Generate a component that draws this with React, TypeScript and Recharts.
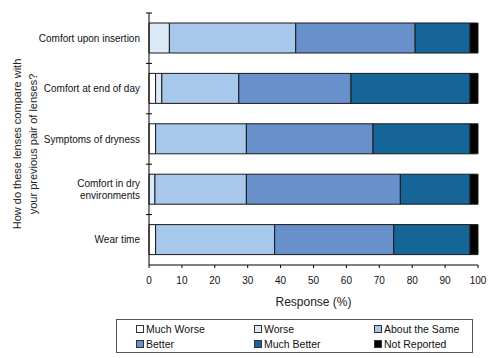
import { Bar, BarChart, XAxis, YAxis, Label } from 'recharts';

const categories = [
  'Comfort upon insertion',
  'Comfort at end of day',
  'Symptoms of dryness',
  'Comfort in dry\nenvironments',
  'Wear time',
];
const muchWorse = [0, 2.0, 2.0, 0, 2.0];
const worse = [6.2, 1.9, 0, 1.8, 0];
const aboutSame = [38.4, 23.4, 27.6, 27.8, 36.2];
const better = [36.3, 34.1, 38.5, 46.8, 36.2];
const muchBetter = [16.7, 36.2, 29.5, 21.2, 23.2];
const notReported = [2.4, 2.4, 2.4, 2.4, 2.4];
const xTicks = [0, 10, 20, 30, 40, 50, 60, 70, 80, 90, 100];

const series = [
  { key: 'muchWorse', name: 'Much Worse', color: '#ffffff' },
  { key: 'worse', name: 'Worse', color: '#dce9f7' },
  { key: 'aboutSame', name: 'About the Same', color: '#a7c8eb' },
  { key: 'better', name: 'Better', color: '#6890cb' },
  { key: 'muchBetter', name: 'Much Better', color: '#166598' },
  { key: 'notReported', name: 'Not Reported', color: '#000000' },
];

const data = categories.map((name, i) => ({
  name,
  muchWorse: muchWorse[i],
  worse: worse[i],
  aboutSame: aboutSame[i],
  better: better[i],
  muchBetter: muchBetter[i],
  notReported: notReported[i],
}));

const font = '"Liberation Sans", Arial, sans-serif';
const margin = { top: 13, right: 22, bottom: 63, left: 0 };
const plotHeight = 358 - 13 - 63 - 30;
const halfBand = plotHeight / categories.length / 2;

function CategoryTick(props: any) {
  const { x, y, payload } = props;
  const lines = String(payload.value).split('\n');
  const lineH = 12.3;
  const start = y - ((lines.length - 1) * lineH) / 2;
  return (
    <g>
      <line x1={x + 6} x2={x + 12} y1={y - halfBand} y2={y - halfBand} stroke="#000" />
      <text x={x} y={start} textAnchor="end" fontSize={10} fill="#111" fontFamily={font}>
        {lines.map((l, i) => (
          <tspan key={i} x={x} dy={i === 0 ? '0.35em' : lineH}>
            {l}
          </tspan>
        ))}
      </text>
    </g>
  );
}

function YTitle() {
  const cx = 28;
  const cy = 144;
  return (
    <text
      transform={`rotate(-90, ${cx}, ${cy})`}
      x={cx}
      y={cy}
      textAnchor="middle"
      fontSize={11}
      fill="#222"
      fontFamily={font}
    >
      <tspan x={cx} dy={-7.3}>How do these lenses compare with</tspan>
      <tspan x={cx} dy={16}>your previous pair of lenses?</tspan>
    </text>
  );
}

export default function App() {
  return (
    <div style={{ position: 'absolute', left: 0, top: 0, width: 500, height: 358, background: '#fff', fontFamily: font }}>
      <BarChart width={500} height={358} data={data} layout="vertical" margin={margin} barSize={30}>
        <XAxis
          type="number"
          domain={[0, 100]}
          ticks={xTicks}
          height={30}
          stroke="#000"
          tickSize={3}
          tickMargin={9}
          tick={{ fill: '#111', fontSize: 10, fontFamily: font }}
        >
          <Label
            content={() => (
              <text x={149 + 329 / 2} y={306} textAnchor="middle" fontSize={12} fill="#222" fontFamily={font}>
                Response (%)
              </text>
            )}
          />
        </XAxis>
        <XAxis xAxisId="top" orientation="top" type="number" domain={[0, 100]} height={0} tick={false} tickLine={false} stroke="#777" />
        <YAxis
          type="category"
          dataKey="name"
          width={149}
          stroke="#000"
          tickLine={false}
          tickMargin={3}
          interval={0}
          tick={<CategoryTick />}
        >
          <Label content={<YTitle />} />
        </YAxis>
        <YAxis yAxisId="right" orientation="right" type="category" dataKey="name" width={0} tick={false} tickLine={false} stroke="#777" />
        {series.map((s) => (
          <Bar
            key={s.key}
            dataKey={s.key}
            name={s.name}
            stackId="a"
            fill={s.color}
            stroke="#1a1a1a"
            strokeWidth={1}
            isAnimationActive={false}
          />
        ))}
      </BarChart>
      <div
        style={{
          position: 'absolute',
          left: 116,
          top: 319,
          width: 336,
          height: 31,
          border: '1px solid #555',
          boxSizing: 'content-box',
          display: 'grid',
          gridTemplateColumns: '118px 120px 98px',
          gridTemplateRows: '15px 15px',
          paddingLeft: 19,
          paddingTop: 1,
          fontSize: 10.5,
          color: '#111',
        }}
      >
        {series.map((s) => (
          <div key={s.key} style={{ display: 'flex', alignItems: 'center', whiteSpace: 'nowrap' }}>
            <span
              style={{
                display: 'inline-block',
                width: 6,
                height: 6,
                background: s.color,
                border: '1px solid #333',
                marginRight: 2,
              }}
            />
            {s.name}
          </div>
        ))}
      </div>
    </div>
  );
}
